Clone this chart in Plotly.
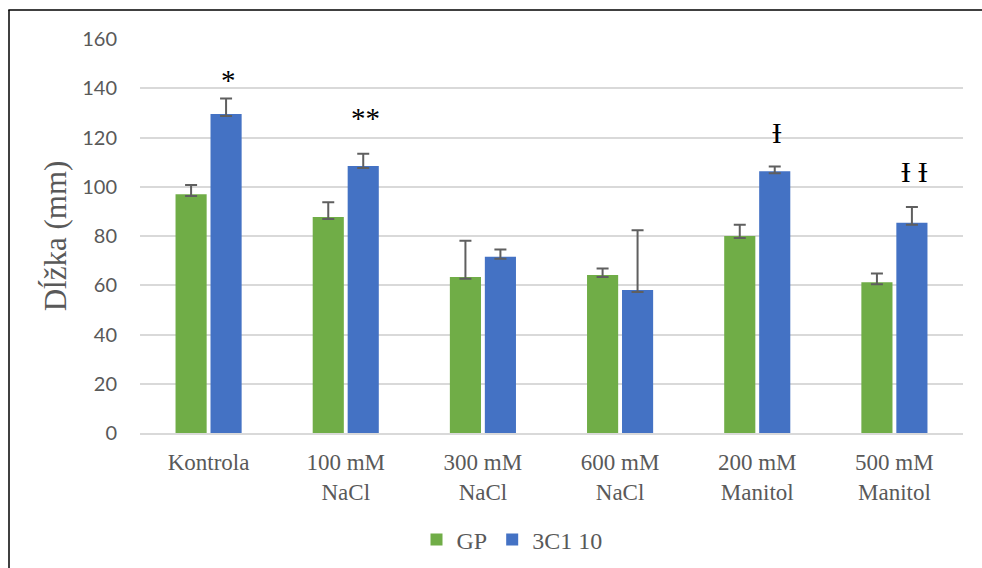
import plotly.graph_objects as go

categories = ["Kontrola", "100 mM<br>NaCl", "300 mM<br>NaCl", "600 mM<br>NaCl", "200 mM<br>Manitol", "500 mM<br>Manitol"]
gp_values = [97.0, 87.7, 63.4, 64.2, 80.0, 61.2]
gp_err = [3.7, 6.0, 14.7, 2.6, 4.6, 3.6]
c3_values = [129.5, 108.4, 71.6, 58.1, 106.3, 85.4]
c3_err = [6.3, 5.0, 2.9, 24.2, 1.9, 6.4]
minus_err = [0.8] * 6
sig_labels = ["*", "**", "", "", "Ɨ", "Ɨ Ɨ"]
sig_y = [143.5, 128, None, None, 122, 106]
y_ticks = [0, 20, 40, 60, 80, 100, 120, 140, 160]

GREEN = "#70AD47"
BLUE = "#4472C4"
ERR = "#5f5f5f"
SERIF = "Liberation Serif, Times New Roman, serif"

fig = go.Figure()
fig.add_trace(go.Bar(
    name="GP", x=categories, y=gp_values, marker_color=GREEN,
    marker_line_width=0,
    error_y=dict(type="data", array=gp_err, arrayminus=minus_err, symmetric=False,
                 color=ERR, thickness=2, width=6),
))
fig.add_trace(go.Bar(
    name="3C1 10", x=categories, y=c3_values, marker_color=BLUE,
    marker_line_width=0,
    error_y=dict(type="data", array=c3_err, arrayminus=minus_err, symmetric=False,
                 color=ERR, thickness=2, width=6),
))

annotations = []
for cat, lab, yv in zip(categories, sig_labels, sig_y):
    if lab and yv is not None:
        annotations.append(dict(
            x=cat, y=yv, xref="x", yref="y", text=lab, showarrow=False,
            xshift=20, font=dict(family=SERIF, size=29, color="#000000"),
            yanchor="middle",
        ))

fig.update_layout(
    width=982, height=568,
    margin=dict(l=140, r=19, t=39, b=135, autoexpand=False),
    paper_bgcolor="white", plot_bgcolor="white",
    barmode="group", bargap=0.49, bargroupgap=0.11,
    annotations=annotations,
    legend=dict(orientation="h", xref="container", x=512 / 982, xanchor="center",
                yref="container", y=(568 - 540) / 568, yanchor="middle",
                font=dict(family=SERIF, size=24, color="#595959"),
                itemwidth=30, traceorder="normal"),
    shapes=[
        dict(type="line", xref="paper", yref="paper", x0=-0.16, x1=1.05,
             y0=(433 - 10) / 394, y1=(433 - 10) / 394, line=dict(color="black", width=1.5)),
        dict(type="line", xref="paper", yref="paper", x0=(9 - 140) / 823, x1=(9 - 140) / 823,
             y0=(433 - 10) / 394, y1=-0.4, line=dict(color="black", width=1.5)),
    ],
)
fig.update_yaxes(
    range=[0, 160], tickvals=y_ticks, showgrid=True, gridcolor="#D9D9D9", gridwidth=1.5,
    zeroline=False, showline=False, ticks="", ticklabelstandoff=22, automargin=False,
    tickfont=dict(family="Lato", size=20, color="#595959"),
    title=dict(text="Dĺžka (mm)", font=dict(family=SERIF, size=31, color="#595959"),
               standoff=6),
)
fig.update_xaxes(
    showline=True, linecolor="#D9D9D9", linewidth=1.5, ticks="", automargin=False,
    tickfont=dict(family=SERIF, size=23, color="#595959"),
    ticklabelstandoff=8,
)

fig.write_html("out.html")
